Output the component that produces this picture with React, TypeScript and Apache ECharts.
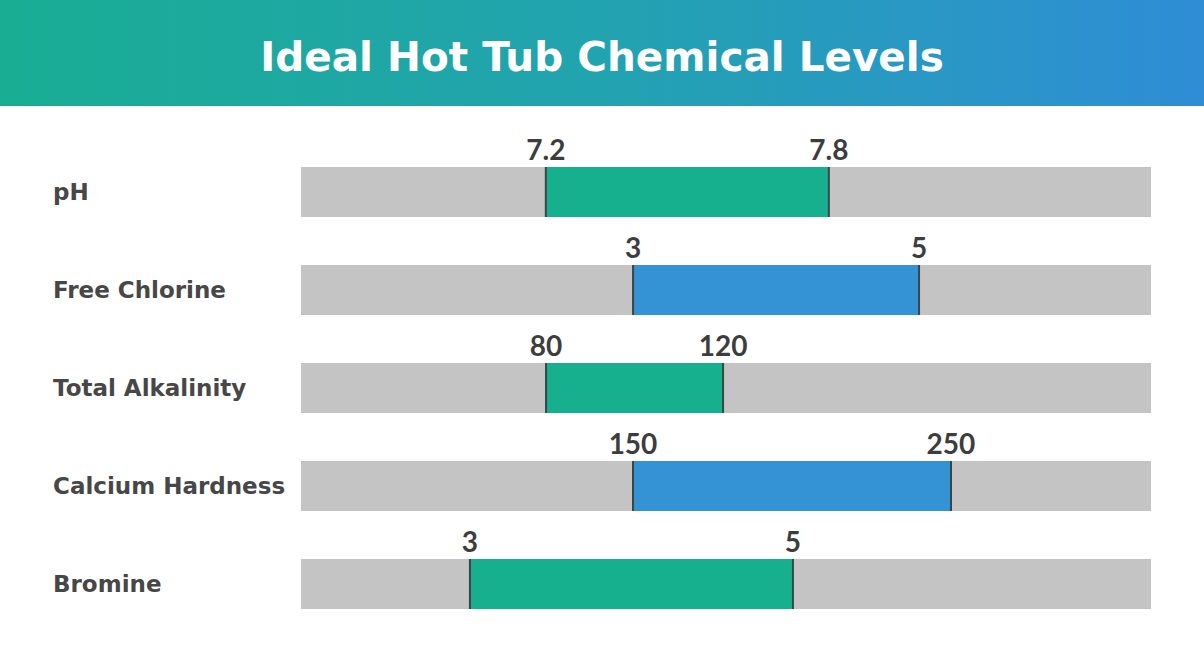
import React, { useEffect, useRef } from "react";
import * as echarts from "echarts";

const categories = ["pH", "Free Chlorine", "Total Alkalinity", "Calcium Hardness", "Bromine"];
const lows = [7.2, 3, 80, 150, 3];
const highs = [7.8, 5, 120, 250, 5];
// per-row scale extents (each row has its own scale)
const axisMin = [6.681, 0.678, 24.63, 45.6, 1.954];
const axisMax = [8.483, 6.622, 216.7, 312.9, 7.217];
const rangeColors = ["#17b08f", "#3393d4", "#17b08f", "#3393d4", "#17b08f"];

const TITLE = "Ideal Hot Tub Chemical Levels";

export default function App() {
  const ref = useRef<HTMLDivElement>(null);
  useEffect(() => {
    if (!ref.current) return;
    const chart = echarts.init(ref.current, null, { renderer: "svg" });
    const grids: any[] = [];
    const xAxes: any[] = [];
    const yAxes: any[] = [];
    const series: any[] = [];
    categories.forEach((cat, i) => {
      grids.push({
        left: 301,
        width: 850,
        top: 167 + 98 * i,
        height: 50,
        show: true,
        backgroundColor: "#c4c4c4",
        borderWidth: 0,
      });
      xAxes.push({
        type: "value",
        gridIndex: i,
        min: axisMin[i],
        max: axisMax[i],
        show: false,
      });
      yAxes.push({
        type: "category",
        gridIndex: i,
        data: [cat],
        axisLine: { show: false },
        axisTick: { show: false },
        axisLabel: {
          show: true,
          align: "left",
          margin: 248,
          fontFamily: "DejaVu Sans",
          fontWeight: "bold",
          fontSize: 23,
          color: "#474747",
        },
      });
      series.push({
        type: "custom",
        xAxisIndex: i,
        yAxisIndex: i,
        clip: false,
        data: [[lows[i], highs[i], 0]],
        renderItem: (params: any, api: any) => {
          const lo = api.value(0);
          const hi = api.value(1);
          const p1 = api.coord([lo, api.value(2)]);
          const p2 = api.coord([hi, api.value(2)]);
          const h = api.size([0, 1])[1];
          const top = p1[1] - h / 2;
          const bot = p1[1] + h / 2;
          const labelStyle = {
            fontFamily: "Lato",
            fontWeight: "bold",
            fontSize: 28,
            fill: "#3d3d3d",
            align: "center",
            verticalAlign: "bottom",
          };
          return {
            type: "group",
            children: [
              {
                type: "rect",
                shape: { x: p1[0], y: top, width: p2[0] - p1[0], height: h },
                style: { fill: rangeColors[i] },
              },
              {
                type: "line",
                shape: { x1: p1[0], y1: top, x2: p1[0], y2: bot },
                style: { stroke: "#3a4646", lineWidth: 2 },
              },
              {
                type: "line",
                shape: { x1: p2[0], y1: top, x2: p2[0], y2: bot },
                style: { stroke: "#3a4646", lineWidth: 2 },
              },
              {
                type: "text",
                x: p1[0],
                y: top - 4,
                style: { ...labelStyle, text: String(lo) },
              },
              {
                type: "text",
                x: p2[0],
                y: top - 4,
                style: { ...labelStyle, text: String(hi) },
              },
            ],
          };
        },
      });
    });
    chart.setOption({
      animation: false,
      backgroundColor: "#ffffff",
      grid: grids,
      xAxis: xAxes,
      yAxis: yAxes,
      series,
      graphic: [
        {
          type: "rect",
          shape: { x: 0, y: 0, width: 1204, height: 106 },
          style: {
            fill: new echarts.graphic.LinearGradient(0, 0, 1, 0, [
              { offset: 0, color: "#19ad93" },
              { offset: 0.5, color: "#22a3b0" },
              { offset: 1, color: "#2f8dd6" },
            ]),
          },
          z: 0,
        },
        {
          type: "text",
          x: 602,
          y: 57,
          style: {
            text: TITLE,
            fontFamily: "DejaVu Sans",
            fontWeight: "bold",
            fontSize: 40.5,
            fill: "#ffffff",
            align: "center",
            verticalAlign: "middle",
          },
          z: 1,
        },
      ],
    });
    return () => chart.dispose();
  }, []);
  return (
    <div
      ref={ref}
      style={{ position: "fixed", left: 0, top: 0, width: 1204, height: 672 }}
    />
  );
}
